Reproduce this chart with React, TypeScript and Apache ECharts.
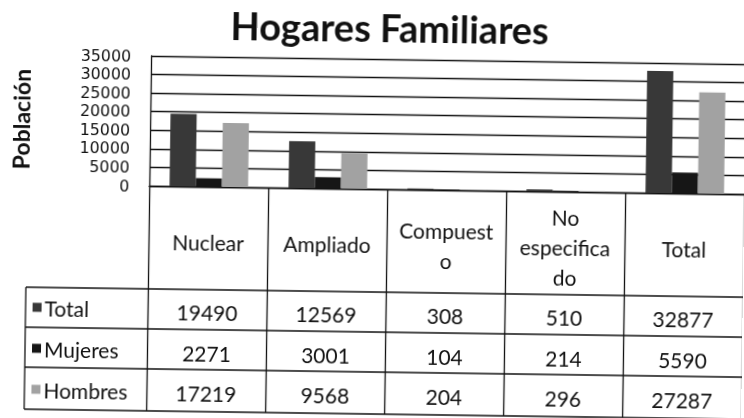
import React, { useEffect, useRef } from "react";
import * as echarts from "echarts";

const categories = ["Nuclear", "Ampliado", "Compuest\no", "No\nespecifica\ndo", "Total"];
const seriesNames = ["Total", "Mujeres", "Hombres"];
const totalValues = [19490, 12569, 308, 510, 32877];
const mujeresValues = [2271, 3001, 104, 214, 5590];
const hombresValues = [17219, 9568, 204, 296, 27287];
const seriesColors = ["#383838", "#161616", "#a2a2a2"];

const FONT = "Lato, 'Open Sans', sans-serif";

export default function App() {
  const ref = useRef<HTMLDivElement>(null);
  useEffect(() => {
    if (!ref.current) return;
    const chart = echarts.init(ref.current, undefined, { renderer: "svg" });
    const gridLeft = 148;
    const gridTop = 59;
    const gridH = 130;
    const gridW = 600;
    const rowLines = [292, 332, 372, 414];
    const rowTextY = [314, 355, 395];
    const legendX = 31;
    const allValues = [totalValues, mujeresValues, hombresValues];

    chart.setOption({
      animation: false,
      backgroundColor: "#ffffff",
      textStyle: { fontFamily: FONT },
      title: {
        text: "Hogares Familiares",
        left: 228,
        top: 7,
        padding: 0,
        textStyle: { fontSize: 38, fontWeight: "bold", color: "#111", fontFamily: FONT, lineHeight: 40 },
      },
      grid: { left: gridLeft, top: gridTop, width: gridW, height: gridH, containLabel: false },
      legend: {
        data: seriesNames,
        orient: "vertical",
        left: legendX + 3,
        top: 301,
        padding: 0,
        icon: "rect",
        itemWidth: 9,
        itemHeight: 9,
        itemGap: 19,
        selectedMode: false,
        textStyle: { fontSize: 21, color: "#111", fontFamily: FONT, lineHeight: 22, padding: [0, 0, 0, -2] },
      },
      xAxis: {
        type: "category",
        data: categories,
        axisLine: { show: true, lineStyle: { color: "#111", width: 1.3 } },
        axisTick: {
          show: true,
          interval: 0,
          length: rowLines[3] - (gridTop + gridH),
          lineStyle: { color: "#111", width: 1.3 },
        },
        axisLabel: {
          interval: 0,
          fontSize: 21,
          color: "#111",
          lineHeight: 30,
          margin: 55,
          verticalAlign: "middle",
          align: "center",
          fontFamily: FONT,
          hideOverlap: false,
        },
      },
      yAxis: {
        type: "value",
        min: 0,
        max: 35000,
        interval: 5000,
        name: "Población",
        nameLocation: "middle",
        nameGap: 118,
        nameRotate: 90,
        nameTextStyle: { fontSize: 23, fontWeight: "bold", color: "#111", fontFamily: FONT },
        axisLine: { show: true, lineStyle: { color: "#111", width: 1.3 } },
        axisTick: { show: false },
        splitLine: { show: true, lineStyle: { color: "#111", width: 1.4 } },
        axisLabel: {
          fontSize: 15.8,
          color: "#111",
          margin: 20,
          lineHeight: 17,
          fontFamily: "'DejaVu Sans', sans-serif",
          showMinLabel: true,
          showMaxLabel: true,
          hideOverlap: false,
          formatter: (v: number) => String(v),
        },
      },
      series: seriesNames.map((n, i) => ({
        name: n,
        type: "bar",
        data: allValues[i],
        barGap: "0%",
        barCategoryGap: "34%",
        itemStyle: { color: seriesColors[i] },
      })),
    });

    const xs = categories.map((_, i) => chart.convertToPixel({ xAxisIndex: 0 }, i) as number);
    const graphics: any[] = [];
    rowLines.forEach((y) => {
      graphics.push({
        type: "line",
        shape: { x1: legendX - 4, y1: y, x2: gridLeft + gridW, y2: y },
        style: { stroke: "#111", lineWidth: 1.3 },
      });
    });
    graphics.push({
      type: "line",
      shape: { x1: legendX - 4, y1: rowLines[0], x2: legendX - 4, y2: rowLines[3] },
      style: { stroke: "#111", lineWidth: 1.3 },
    });
    allValues.forEach((vals, r) => {
      vals.forEach((v, c) => {
        graphics.push({
          type: "text",
          x: xs[c],
          y: rowTextY[r],
          style: {
            text: String(v),
            fontSize: 21,
            fill: "#111",
            fontFamily: FONT,
            align: "center",
            verticalAlign: "middle",
          },
        });
      });
    });
    chart.setOption({ graphic: graphics });

    return () => chart.dispose();
  }, []);
  return (
    <div
      ref={ref}
      style={{
        position: "fixed",
        left: 0,
        top: 0,
        width: 744,
        height: 418,
        transform: "rotate(0.8deg)",
        transformOrigin: "372px 209px",
      }}
    />
  );
}
